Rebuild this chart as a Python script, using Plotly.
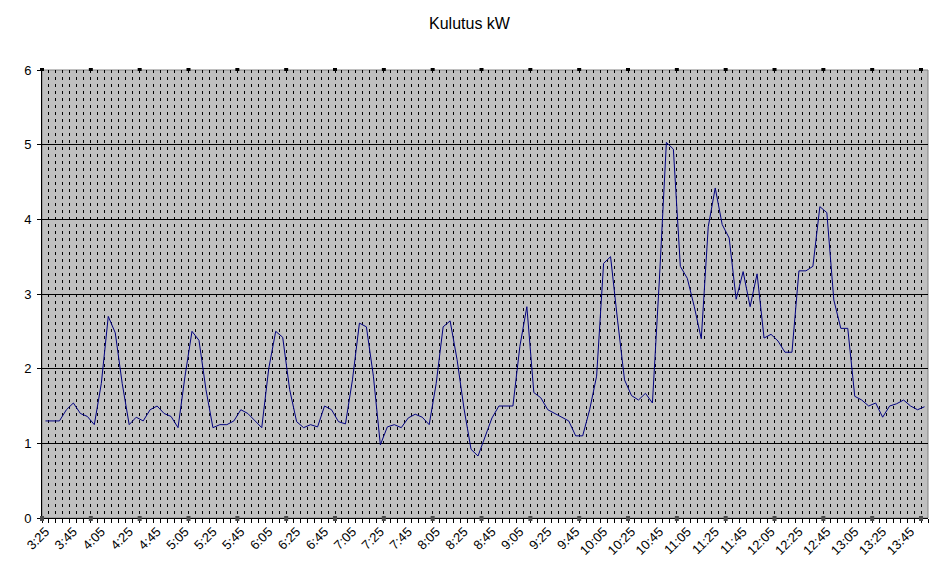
import plotly.graph_objects as go

title_text = "Kulutus kW"

times = [
    "3:25", "3:30", "3:35", "3:40", "3:45", "3:50", "3:55",
    "4:00", "4:05", "4:10", "4:15", "4:20", "4:25", "4:30", "4:35", "4:40", "4:45", "4:50", "4:55",
    "5:00", "5:05", "5:10", "5:15", "5:20", "5:25", "5:30", "5:35", "5:40", "5:45", "5:50", "5:55",
    "6:00", "6:05", "6:10", "6:15", "6:20", "6:25", "6:30", "6:35", "6:40", "6:45", "6:50", "6:55",
    "7:00", "7:05", "7:10", "7:15", "7:20", "7:25", "7:30", "7:35", "7:40", "7:45", "7:50", "7:55",
    "8:00", "8:05", "8:10", "8:15", "8:20", "8:25", "8:30", "8:35", "8:40", "8:45", "8:50", "8:55",
    "9:00", "9:05", "9:10", "9:15", "9:20", "9:25", "9:30", "9:35", "9:40", "9:45", "9:50", "9:55",
    "10:00", "10:05", "10:10", "10:15", "10:20", "10:25", "10:30", "10:35", "10:40", "10:45", "10:50", "10:55",
    "11:00", "11:05", "11:10", "11:15", "11:20", "11:25", "11:30", "11:35", "11:40", "11:45", "11:50", "11:55",
    "12:00", "12:05", "12:10", "12:15", "12:20", "12:25", "12:30", "12:35", "12:40", "12:45", "12:50", "12:55",
    "13:00", "13:05", "13:10", "13:15", "13:20", "13:25", "13:30", "13:35", "13:40", "13:45", "13:50", "13:55",
]

kulutus_kw = [
    1.30, 1.30, 1.30, 1.45, 1.54, 1.40, 1.36, 1.25, 1.80, 2.70,
    2.48, 1.80, 1.25, 1.35, 1.30, 1.45, 1.50, 1.40, 1.36, 1.21,
    1.90, 2.50, 2.38, 1.72, 1.21, 1.25, 1.25, 1.30, 1.45, 1.40,
    1.31, 1.21, 2.00, 2.50, 2.42, 1.72, 1.29, 1.21, 1.25, 1.22,
    1.50, 1.45, 1.29, 1.26, 1.85, 2.61, 2.56, 1.90, 0.98, 1.22,
    1.25, 1.21, 1.34, 1.39, 1.35, 1.25, 1.80, 2.56, 2.64, 2.12,
    1.46, 0.92, 0.83, 1.10, 1.34, 1.50, 1.50, 1.50, 2.30, 2.83,
    1.68, 1.61, 1.45, 1.40, 1.36, 1.30, 1.10, 1.10, 1.45, 1.90,
    3.41, 3.50, 2.65, 1.85, 1.64, 1.58, 1.67, 1.54, 3.20, 5.03,
    4.94, 3.37, 3.21, 2.83, 2.40, 3.90, 4.42, 3.93, 3.75, 2.93,
    3.30, 2.83, 3.27, 2.41, 2.46, 2.37, 2.22, 2.22, 3.31, 3.31,
    3.37, 4.17, 4.09, 2.92, 2.54, 2.54, 1.63, 1.58, 1.50, 1.54,
    1.35, 1.50, 1.53, 1.58, 1.50, 1.45, 1.49,
]

label_every = 4
marker_every = 7
y_ticks = [0, 1, 2, 3, 4, 5, 6]

tick_text = [t if i % label_every == 0 else "" for i, t in enumerate(times)]

FONT = "Liberation Sans, Arial, sans-serif"
W, H = 939, 568
PAGE_OFFSET = 8  # default body margin of the html page

fig = go.Figure()
fig.add_trace(go.Scatter(
    x=times, y=kulutus_kw, mode="lines",
    line=dict(color="#000080", width=1),
    showlegend=False, hoverinfo="x+y",
))

shapes = []
# gray plot-area border (top/right), under the black axis lines
shapes.append(dict(type="rect", xref="paper", yref="paper", x0=0, x1=1, y0=0, y1=1,
                   line=dict(color="#808080", width=1), fillcolor="rgba(0,0,0,0)",
                   layer="between"))
n = len(times)
# small square tick markers on the category boundaries, every 7th category
for k in range(0, n + 1, marker_every):
    fx = k / n
    shapes.append(dict(type="rect", xref="paper", yref="paper",
                       xsizemode="pixel", xanchor=fx, x0=-2, x1=2,
                       ysizemode="pixel", yanchor=1, y0=-1, y1=2,
                       line=dict(width=0), fillcolor="#000000", layer="above"))
    shapes.append(dict(type="rect", xref="paper", yref="paper",
                       xsizemode="pixel", xanchor=fx, x0=-2, x1=2,
                       ysizemode="pixel", yanchor=0, y0=-3, y1=2,
                       line=dict(width=0), fillcolor="#4a4a4a", layer="above"))

fig.update_layout(
    width=W, height=H,
    margin=dict(l=42 - PAGE_OFFSET, r=11 + PAGE_OFFSET, t=70 - PAGE_OFFSET,
                b=50 + PAGE_OFFSET, autoexpand=False),
    paper_bgcolor="#FFFFFF",
    plot_bgcolor="#C0C0C0",
    font=dict(family=FONT, size=12, color="#000000"),
    title=dict(text=title_text, x=(469.5 - PAGE_OFFSET) / W, xref="container", xanchor="center",
               y=1 - (23 - PAGE_OFFSET) / H, yref="container", yanchor="middle",
               font=dict(family=FONT, size=16, color="#000000")),
    shapes=shapes,
    xaxis=dict(
        type="category",
        categoryorder="array", categoryarray=times,
        range=[-0.5, n - 0.5],
        tickmode="array", tickvals=times, ticktext=tick_text,
        tickson="boundaries",
        ticks="outside", ticklen=4, tickwidth=1, tickcolor="#000000",
        tickangle=-45,
        tickfont=dict(family=FONT, size=13, color="#000000"),
        showgrid=True, gridcolor="#000000", gridwidth=1, griddash="3px,4px",
        showline=True, linecolor="#000000", linewidth=1,
        zeroline=False, automargin=False, fixedrange=True,
    ),
    yaxis=dict(
        range=[0, 6],
        tickmode="array", tickvals=y_ticks,
        ticks="outside", ticklen=4, tickwidth=1, tickcolor="#000000",
        ticklabelstandoff=3,
        tickfont=dict(family=FONT, size=13, color="#000000"),
        showgrid=True, gridcolor="#000000", gridwidth=1,
        showline=True, linecolor="#000000", linewidth=1,
        zeroline=False, automargin=False, fixedrange=True,
    ),
)

fig.write_html("out.html")
